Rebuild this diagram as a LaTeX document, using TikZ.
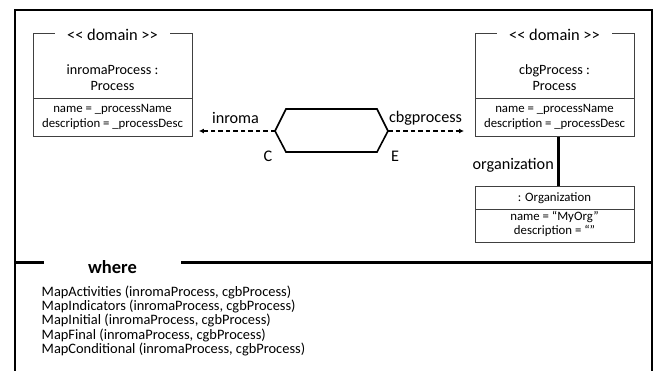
\documentclass[tikz,border=0pt]{standalone}
\usepackage{fontspec}
\setmainfont{Carlito}
\usetikzlibrary{arrows.meta}
\newcommand{\ltlt}{<{}<}
\newcommand{\gtgt}{>{}>}
\begin{document}
\begin{tikzpicture}[x=1pt,y=-1pt,
  frameline/.style={line width=2.6pt,black},
  umlbox/.style={draw=black!75,line width=0.9pt,inner sep=0pt,anchor=north west},
  stereo/.style={fill=white,inner xsep=12pt,inner ysep=1pt,font=\fontsize{16.4}{18}\selectfont},
  objname/.style={align=center,font=\fontsize{14.2}{16}\selectfont},
  attrs/.style={align=center,font=\fontsize{12.8}{14.5}\selectfont},
  rolelabel/.style={font=\fontsize{16.2}{18}\selectfont},
  linkend/.style={dashed,dash pattern=on 4.5pt off 3pt,line width=1.8pt,-{Latex[length=5pt,width=5pt]}},
  wherelist/.style={align=left,anchor=north west,inner sep=0pt,font=\fontsize{14.4}{14.3}\selectfont},
]
\useasboundingbox (0,0) rectangle (658,370);

% outer frame, open at the bottom
\draw[frameline] (15,372) -- (15,10) -- (652,10) -- (652,372);

% left object: inromaProcess
\node[umlbox,minimum width=159pt,minimum height=65pt] (lhead) at (33,33) {};
\node[umlbox,minimum width=159pt,minimum height=38pt] (lattr) at (33,98) {};
\node[stereo] (lst) at (112.5,35) {\ltlt{} domain \gtgt};
\node[objname] (lname) at (112.5,78) {inromaProcess :\\Process};
\node[attrs] (lat) at (112.5,117) {name = \_processName\\description = \_processDesc};

% right object: cbgProcess
\node[umlbox,minimum width=159pt,minimum height=65pt] (rhead) at (475,33) {};
\node[umlbox,minimum width=159pt,minimum height=38pt] (rattr) at (475,98) {};
\node[stereo] (rst) at (554.5,35) {\ltlt{} domain \gtgt};
\node[objname] (rname) at (554.5,78) {cbgProcess :\\Process};
\node[attrs] (rat) at (554.5,117) {name = \_processName\\description = \_processDesc};

% organization object
\node[umlbox,minimum width=159pt,minimum height=23pt] (ohead) at (475,186) {};
\node[umlbox,minimum width=159pt,minimum height=33pt] (oattr) at (475,209) {};
\node[attrs] (oname) at (554.5,198) {: Organization};
\node[attrs] (oat) at (554.5,224) {name = “MyOrg”\\description = “”};

% hexagonal connector between the processes
\coordinate (hexL) at (275,131);
\coordinate (hexR) at (388,131);
\draw[line width=1.6pt,line join=miter] (hexL) -- (286,109) -- (377,109) -- (hexR) -- (377,152) -- (286,152) -- cycle;

\draw[linkend,shorten >=6pt] (hexL) -- (lattr.east |- hexL);
\draw[linkend,shorten >=11pt] (hexR) -- (rattr.west |- hexR);

\node[rolelabel] (lrole) at (235.5,118) {inroma};
\node[rolelabel] (rrole) at (425.5,118) {cbgprocess};
\node[rolelabel] (cmark) at (268,156) {C};
\node[rolelabel] (emark) at (395,156) {E};

% association to the organization
\draw[line width=2.4pt] ([xshift=3.5pt]rattr.south) -- ([xshift=3.5pt]ohead.north);
\node[rolelabel,anchor=east,inner sep=0pt] (orole) at (554,165) {organization};

% where compartment
\node[font=\fontsize{18.5}{20}\bfseries] (where) at (112.5,267) {where};
\draw[line width=3pt] (14,262) -- (44,262);
\draw[line width=3pt] (181,262) -- (653,262);
\node[wherelist] (maps) at (41.5,285.5) {MapActivities (inromaProcess, cgbProcess)\\
MapIndicators (inromaProcess, cgbProcess)\\
MapInitial (inromaProcess, cgbProcess)\\
MapFinal (inromaProcess, cgbProcess)\\
MapConditional (inromaProcess, cgbProcess)};
\end{tikzpicture}
\end{document}
